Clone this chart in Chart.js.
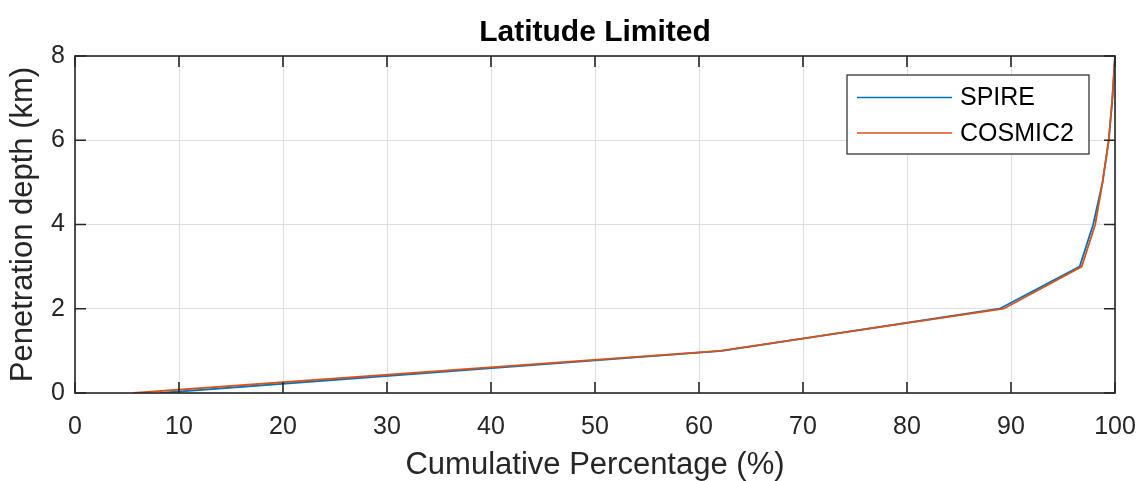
<!DOCTYPE html>
<html>
<head>
<meta charset="utf-8">
<title>Latitude Limited</title>
<script src="https://cdn.jsdelivr.net/npm/chart.js@4/dist/chart.umd.min.js"></script>
<style>
  html, body { margin: 0; padding: 0; background: #ffffff; }
  #wrap { width: 1138px; height: 481px; }
</style>
</head>
<body>
<div id="wrap"><canvas id="chart" width="1138" height="481"></canvas></div>
<script>
// Penetration depth levels (km)
const depthKm = [0, 1, 2, 3, 4, 5, 6, 7, 8];
// Cumulative percentage of profiles reaching each depth (%)
const spireCum   = [8.2, 62.2, 88.9, 96.6, 97.9, 98.8, 99.4, 99.75, 100];
const cosmic2Cum = [5.6, 62.0, 89.3, 96.8, 98.1, 98.8, 99.4, 99.75, 100];
const seriesNames = ['SPIRE', 'COSMIC2'];
const xTickValues = [0, 10, 20, 30, 40, 50, 60, 70, 80, 90, 100];
const yTickValues = [0, 2, 4, 6, 8];
const chartTitle = 'Latitude Limited';

const FONT = "Arial, 'Liberation Sans', Helvetica, sans-serif";
const AXIS_COLOR = '#262626';

function toPoints(xs, ys) {
  return xs.map((x, i) => ({ x: x, y: ys[i] }));
}

// Title centred over the plot area
const plotTitle = {
  id: 'plotTitle',
  afterDraw(chart) {
    const { ctx, chartArea: a } = chart;
    ctx.save();
    ctx.font = 'bold 30px ' + FONT;
    ctx.fillStyle = '#000000';
    ctx.textAlign = 'center';
    ctx.textBaseline = 'middle';
    ctx.fillText(chartTitle, (a.left + a.right) / 2, 32.5);
    ctx.restore();
  }
};

// Box around the plot area with inward tick marks on all four sides
const axesBox = {
  id: 'axesBox',
  afterDatasetsDraw(chart) {
    const { ctx, chartArea: a, scales } = chart;
    const len = 11;
    ctx.save();
    ctx.strokeStyle = AXIS_COLOR;
    ctx.lineWidth = 1.6;
    ctx.beginPath();
    xTickValues.forEach(v => {
      const px = scales.x.getPixelForValue(v);
      ctx.moveTo(px, a.bottom); ctx.lineTo(px, a.bottom - len);
      ctx.moveTo(px, a.top);    ctx.lineTo(px, a.top + len);
    });
    yTickValues.forEach(v => {
      const py = scales.y.getPixelForValue(v);
      ctx.moveTo(a.left, py);  ctx.lineTo(a.left + len, py);
      ctx.moveTo(a.right, py); ctx.lineTo(a.right - len, py);
    });
    ctx.stroke();
    ctx.strokeRect(a.left, a.top, a.right - a.left, a.bottom - a.top);
    ctx.restore();
  }
};

// Legend box in the upper right of the plot area
const insetLegend = {
  id: 'insetLegend',
  afterDraw(chart) {
    const { ctx } = chart;
    const box = { x: 847, y: 75, w: 242, h: 79 };
    ctx.save();
    ctx.fillStyle = '#ffffff';
    ctx.fillRect(box.x, box.y, box.w, box.h);
    ctx.strokeStyle = AXIS_COLOR;
    ctx.lineWidth = 1.2;
    ctx.strokeRect(box.x, box.y, box.w, box.h);
    ctx.font = '25px ' + FONT;
    ctx.textBaseline = 'middle';
    ctx.textAlign = 'left';
    chart.data.datasets.forEach((ds, i) => {
      const y = box.y + 22.5 + i * 35.5;
      ctx.strokeStyle = ds.borderColor;
      ctx.lineWidth = 1.7;
      ctx.beginPath();
      ctx.moveTo(857, y); ctx.lineTo(952, y);
      ctx.stroke();
      ctx.fillStyle = '#000000';
      ctx.fillText(ds.label, 960, y + 1);
    });
    ctx.restore();
  }
};

new Chart(document.getElementById('chart'), {
  type: 'line',
  data: {
    datasets: [
      {
        label: seriesNames[0],
        data: toPoints(spireCum, depthKm),
        borderColor: '#0072BD',
        borderWidth: 1.8,
        pointRadius: 0,
        fill: false,
        tension: 0,
        order: 2
      },
      {
        label: seriesNames[1],
        data: toPoints(cosmic2Cum, depthKm),
        borderColor: '#D95319',
        borderWidth: 1.8,
        pointRadius: 0,
        fill: false,
        tension: 0,
        order: 1
      }
    ]
  },
  options: {
    responsive: false,
    animation: false,
    devicePixelRatio: 1,
    layout: { padding: { left: 0, right: 23, top: 56, bottom: 0 } },
    plugins: {
      legend: { display: false },
      tooltip: { enabled: false },
      title: { display: false }
    },
    scales: {
      x: {
        type: 'linear',
        min: 0,
        max: 100,
        afterFit(scale) {
          scale.height = 88;
          scale.paddingLeft = 0;
          scale.paddingRight = 0;
        },
        afterBuildTicks(scale) { scale.ticks = xTickValues.map(v => ({ value: v })); },
        border: { display: false },
        grid: { color: '#dedede', lineWidth: 1, drawTicks: false },
        ticks: {
          color: AXIS_COLOR,
          padding: 19,
          maxRotation: 0,
          font: { family: FONT, size: 25, lineHeight: 1.2 }
        },
        title: {
          display: true,
          text: 'Cumulative Percentage (%)',
          color: AXIS_COLOR,
          font: { family: FONT, size: 31, lineHeight: 1 },
          padding: { top: 0, bottom: 0 }
        }
      },
      y: {
        type: 'linear',
        min: 0,
        max: 8,
        afterFit(scale) {
          scale.width = 75;
          scale.paddingTop = 0;
          scale.paddingBottom = 0;
        },
        afterBuildTicks(scale) { scale.ticks = yTickValues.map(v => ({ value: v })); },
        border: { display: false },
        grid: { color: '#dedede', lineWidth: 1, drawTicks: false },
        ticks: {
          color: AXIS_COLOR,
          padding: 10,
          font: { family: FONT, size: 25, lineHeight: 1.2 }
        },
        title: {
          display: true,
          text: 'Penetration depth (km)',
          color: AXIS_COLOR,
          font: { family: FONT, size: 31, lineHeight: 1 },
          padding: { top: 8, bottom: 0 }
        }
      }
    }
  },
  plugins: [axesBox, insetLegend, plotTitle]
});
</script>
</body>
</html>
